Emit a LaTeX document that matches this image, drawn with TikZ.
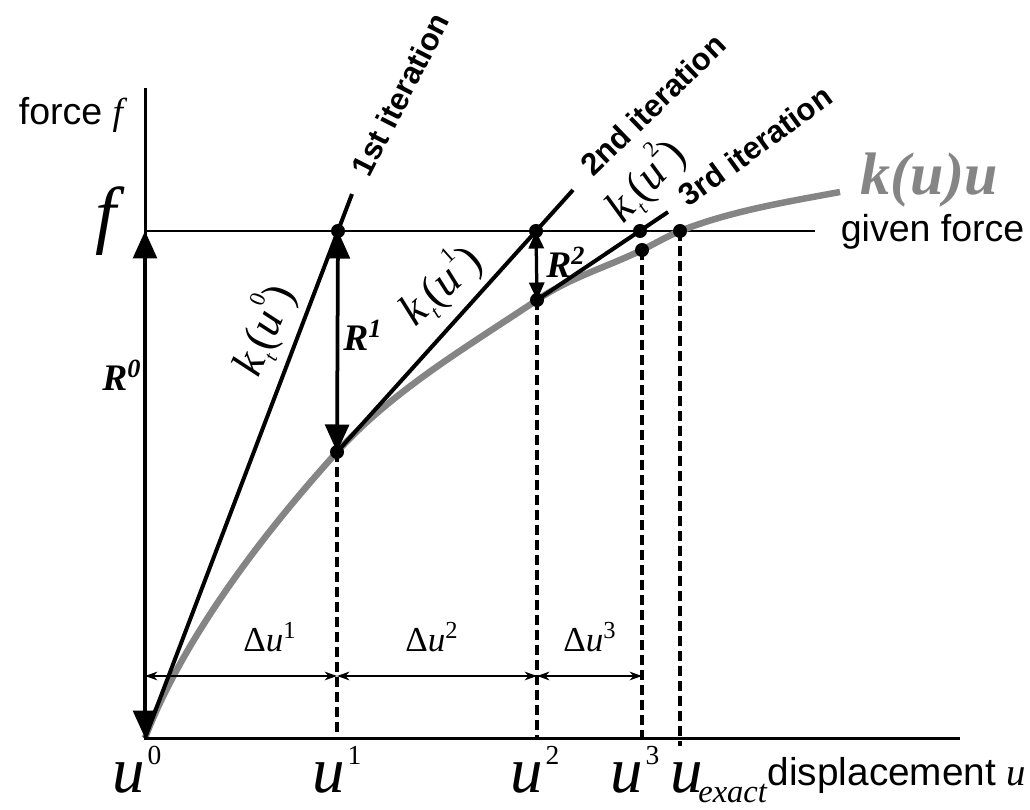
\documentclass[tikz,border=0pt]{standalone}
\usepackage{fontspec}
\setmainfont{Liberation Serif}
\setsansfont{Liberation Sans}
\usetikzlibrary{arrows.meta}
\definecolor{CurveGray}{HTML}{858585}
\newcommand{\uup}[1]{\textit{u}\kern1pt\raisebox{0.42em}{\fontsize{11}{11}\selectfont\upshape #1}}
\newcommand{\ktan}[1]{\textit{k}\kern0.6pt\raisebox{-0.2em}{\fontsize{8}{8}\selectfont\itshape t}\kern0.4pt(\textit{u}\kern0.4pt\raisebox{0.55em}{\fontsize{9}{9}\selectfont\upshape #1})}

\begin{document}
\begin{tikzpicture}[
  x=0.4pt,y=-0.4pt,
  axis/.style={line width=1.2pt},
  tang/.style={line width=1.6pt},
  given/.style={line width=0.8pt},
  curve/.style={line width=2.6pt,draw=CurveGray},
  dashln/.style={line width=1.3pt,dash pattern=on 4pt off 2pt},
  resid/.style={line width=1.5pt,{Triangle[length=11pt,width=9.5pt]}-{Triangle[length=11pt,width=9.5pt]}},
  resids/.style={line width=1.3pt,{Triangle[length=7pt,width=6pt]}-{Triangle[length=7pt,width=6pt]}},
  dim/.style={line width=0.6pt,{Stealth[length=5pt,width=3.5pt]}-{Stealth[length=5pt,width=3.5pt]}},
  iter/.style={anchor=west,font=\sffamily\bfseries\fontsize{12.5}{15}\selectfont},
  slope/.style={font=\fontsize{18}{20}\selectfont},
  rlab/.style={font=\bfseries\itshape\fontsize{15}{18}\selectfont},
  dlab/.style={font=\fontsize{14}{16}\selectfont},
  ulab/.style={anchor=base,font=\fontsize{26}{30}\selectfont}
]
  \useasboundingbox (0,0) rectangle (1030,810);
  \coordinate (O) at (145,738);
  \coordinate (Ytop) at (145,88);
  \coordinate (Xend) at (960,738);
  \coordinate (F) at (145,231);
  \coordinate (Fend) at (815,231);
  \coordinate (P1) at (338,231);
  \coordinate (Q1) at (337,452);
  \coordinate (P2) at (536,231);
  \coordinate (Q2) at (537,300);
  \coordinate (P3) at (640,231);
  \coordinate (Q3) at (642,250);
  \coordinate (E) at (680,231);
  \coordinate (C) at (840,192);
  \coordinate (T1) at (352,194);
  \coordinate (T2) at (573,190);
  \coordinate (T3) at (668,212);

  \draw[given] (F) -- (Fend);
  \draw[curve] (O) .. controls (183,639) and (261,536) .. (Q1)
    .. controls (393,390) and (467,347) .. (Q2)
    .. controls (569,278) and (607,267) .. (Q3)
    .. controls (654,244) and (668,236) .. (E)
    .. controls (731,211) and (786,202) .. (C);
  \draw[dashln] (Q1) -- (Q1 |- O);
  \draw[dashln] (Q2) -- (Q2 |- O);
  \draw[dashln] (Q3) -- (Q3 |- O);
  \draw[dashln] (E) -- ([yshift=-3pt]E |- O);
  \draw[tang] (O) -- (T1);
  \draw[tang] (Q1) -- (T2);
  \draw[tang] (Q2) -- (T3);
  \draw[axis] (Ytop) -- (O) -- (Xend);
  \draw[resid] (O) -- (F);
  \draw[resid] (Q1) -- (P1);
  \draw[resids] (Q2) -- (P2);
  \foreach \p in {P1,Q1,P2,Q2,P3,Q3,E}
    \fill (\p) circle[radius=2.8pt];
  \coordinate (D0) at (O |- 0,676);
  \coordinate (D1) at (Q1 |- 0,676);
  \coordinate (D2) at (Q2 |- 0,676);
  \coordinate (D3) at (Q3 |- 0,676);
  \draw[dim] (D0) -- (D1);
  \draw[dim] (D1) -- (D2);
  \draw[dim] (D2) -- (D3);

  \node[anchor=base west,font=\sffamily\fontsize{15}{18}\selectfont] (forcelab) at (10,125) {force {\rmfamily\itshape f}};
  \node[anchor=base,font=\fontsize{30}{32}\selectfont\itshape] (fval) at (106,240) {f};
  \node[anchor=base west,font=\sffamily\fontsize{15}{18}\selectfont] (givenlab) at (832,242) {given force};
  \node[anchor=base west,text=CurveGray,font=\bfseries\itshape\fontsize{24}{28}\selectfont] (kuu) at (852,195) {k(u)u};
  \node[rlab] (R0) at (122,375) {R\textsuperscript{0}};
  \node[rlab] (R1) at (363,335) {R\textsuperscript{1}};
  \node[rlab] (R2) at (566,262) {R\textsuperscript{2}};
  \node[slope,rotate=67] (k0) at (263,330) {\ktan{0}};
  \node[slope,rotate=42] (k1) at (440,285) {\ktan{1}};
  \node[slope,rotate=46] (k2) at (645,180) {\ktan{2}};
  \node[iter,rotate=63] (it1) at (356,181) {1st iteration};
  \node[iter,rotate=44] (it2) at (579,176) {2nd iteration};
  \node[iter,rotate=36] (it3) at (675,204) {3rd iteration};
  \node[dlab] (du1) at (270,637) {Δ\textit{u}\textsuperscript{1}};
  \node[dlab] (du2) at (432,637) {Δ\textit{u}\textsuperscript{2}};
  \node[dlab] (du3) at (590,637) {Δ\textit{u}\textsuperscript{3}};
  \node[ulab] (u0) at (137,792) {\uup{0}};
  \node[ulab] (u1) at (337,792) {\uup{1}};
  \node[ulab] (u2) at (535,792) {\uup{2}};
  \node[ulab] (u3) at (635,792) {\uup{3}};
  \node[ulab,anchor=base west] (uex) at (662,792) {\textit{u}\kern-2pt\raisebox{-4pt}{\fontsize{13}{13}\selectfont\itshape exact}};
  \node[anchor=base west,font=\sffamily\fontsize{15.5}{20}\selectfont] (disp) at (759,785) {displacement {\rmfamily\itshape u}};
\end{tikzpicture}
\end{document}
